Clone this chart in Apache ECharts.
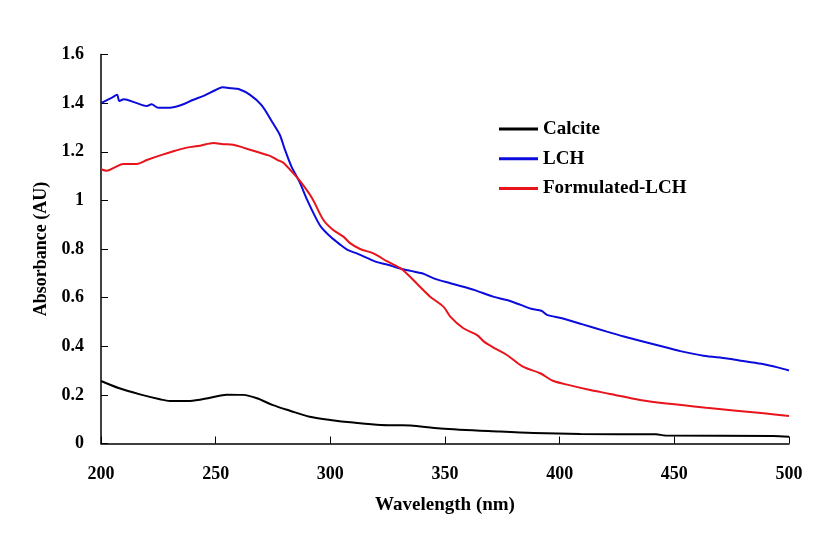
<!DOCTYPE html>
<html>
<head>
<meta charset="utf-8">
<script src="https://cdn.jsdelivr.net/npm/echarts@6/dist/echarts.min.js"></script>
<style>html,body{margin:0;padding:0;background:#fff}#c{width:840px;height:539px}</style>
</head>
<body>
<div id="c"></div>
<script>
const xTicks = [200, 250, 300, 350, 400, 450, 500];
const yTicks = [0, 0.2, 0.4, 0.6, 0.8, 1, 1.2, 1.4, 1.6];
const seriesNames = ['Calcite', 'LCH', 'Formulated-LCH'];

const calciteWl  = [200, 208, 217, 225.7, 230, 238.8, 247.6, 254.8, 262, 268, 275, 282.4, 291, 300, 310, 322, 330, 335, 348, 374, 388.6, 409, 442, 446, 493, 500];
const calciteAbs = [0.257, 0.227, 0.202, 0.182, 0.175, 0.175, 0.188, 0.201, 0.200, 0.186, 0.158, 0.135, 0.110, 0.097, 0.086, 0.076, 0.075, 0.074, 0.062, 0.049, 0.043, 0.039, 0.038, 0.033, 0.031, 0.028];

const lchWl  = [200, 205, 207, 208, 210, 215, 220, 222, 225, 230, 235, 240, 245, 250, 253, 257, 260, 265, 270, 275, 278, 280, 283, 286.5, 290, 293.4, 296, 300, 304, 307.5, 312, 320, 325, 330, 335, 340, 346, 352, 358, 363, 371, 377, 383, 388, 392, 394.5, 401, 410, 420.6, 428, 435, 447, 452.6, 462.7, 473, 480, 489, 495, 500];
const lchAbs = [1.400, 1.424, 1.434, 1.409, 1.416, 1.402, 1.388, 1.395, 1.381, 1.381, 1.392, 1.413, 1.431, 1.454, 1.465, 1.461, 1.458, 1.434, 1.392, 1.317, 1.269, 1.214, 1.140, 1.077, 1.000, 0.933, 0.890, 0.851, 0.820, 0.796, 0.780, 0.747, 0.735, 0.721, 0.710, 0.700, 0.676, 0.660, 0.645, 0.631, 0.604, 0.590, 0.570, 0.553, 0.546, 0.529, 0.515, 0.490, 0.460, 0.440, 0.423, 0.394, 0.380, 0.361, 0.350, 0.339, 0.326, 0.313, 0.300];

const fLchWl  = [200, 202.5, 206, 209.7, 215.6, 220, 226.5, 232.3, 237.4, 243.2, 249, 253.4, 257.7, 262, 267.9, 273.7, 277, 279.5, 284, 287, 292, 297, 301, 305.7, 308.6, 313, 318.8, 324.6, 330.4, 334, 338, 343.5, 349.3, 352.3, 358, 364, 367, 372, 377, 384, 391.5, 397, 404.6, 413.3, 422, 435, 450, 464, 477, 489, 500];
const fLchAbs = [1.128, 1.122, 1.136, 1.150, 1.150, 1.166, 1.187, 1.204, 1.217, 1.225, 1.236, 1.231, 1.229, 1.217, 1.200, 1.183, 1.166, 1.155, 1.110, 1.077, 1.010, 0.919, 0.880, 0.851, 0.824, 0.800, 0.782, 0.750, 0.722, 0.693, 0.655, 0.604, 0.563, 0.522, 0.474, 0.446, 0.419, 0.390, 0.364, 0.316, 0.289, 0.258, 0.239, 0.220, 0.204, 0.179, 0.161, 0.147, 0.135, 0.124, 0.113];

const pair = (xs, ys) => xs.map((x, i) => [x, ys[i]]);
const font = "'Liberation Serif', 'Times New Roman', serif";

const chart = echarts.init(document.getElementById('c'), null, {renderer: 'canvas'});
chart.setOption({
  animation: false,
  backgroundColor: '#fff',
  grid: {left: 101, right: 51, top: 54.5, bottom: 95.5, containLabel: false},
  legend: {
    orient: 'vertical', left: 494, top: 114.5, itemWidth: 39, itemHeight: 3, itemGap: 10.7,
    icon: 'rect',
    data: seriesNames,
    textStyle: {fontFamily: font, fontWeight: 'bold', fontSize: 19, color: '#000'}
  },
  xAxis: {
    type: 'value', min: xTicks[0], max: xTicks[xTicks.length - 1], interval: 50,
    name: 'Wavelength (nm)', nameLocation: 'middle', nameGap: 52,
    nameTextStyle: {fontFamily: font, fontWeight: 'bold', fontSize: 19, color: '#000'},
    axisLine: {lineStyle: {color: '#000', width: 1.5}},
    axisTick: {inside: true, length: 7, lineStyle: {color: '#000', width: 1}},
    axisLabel: {margin: 22, fontFamily: font, fontWeight: 'bold', fontSize: 18, color: '#000'},
    splitLine: {show: false}
  },
  yAxis: {
    type: 'value', min: yTicks[0], max: yTicks[yTicks.length - 1], interval: 0.2,
    name: 'Absorbance (AU)', nameLocation: 'middle', nameGap: 51,
    nameTextStyle: {fontFamily: font, fontWeight: 'bold', fontSize: 18, color: '#000'},
    axisLine: {show: true, lineStyle: {color: '#000', width: 1.5}},
    axisTick: {show: true, inside: true, length: 7, lineStyle: {color: '#000', width: 1}},
    axisLabel: {margin: 17, fontFamily: font, fontWeight: 'bold', fontSize: 18, color: '#000'},
    splitLine: {show: false}
  },
  series: [
    {name: seriesNames[0], type: 'line', data: pair(calciteWl, calciteAbs), showSymbol: false, symbol: 'none', smooth: 0.3,
     lineStyle: {color: '#000', width: 2}, itemStyle: {color: '#000'}},
    {name: seriesNames[1], type: 'line', data: pair(lchWl, lchAbs), showSymbol: false, symbol: 'none', smooth: 0.3,
     lineStyle: {color: '#0b0bdc', width: 2}, itemStyle: {color: '#0b0bdc'}},
    {name: seriesNames[2], type: 'line', data: pair(fLchWl, fLchAbs), showSymbol: false, symbol: 'none', smooth: 0.3,
     lineStyle: {color: '#e8141c', width: 2}, itemStyle: {color: '#e8141c'}}
  ]
});
</script>
</body>
</html>
